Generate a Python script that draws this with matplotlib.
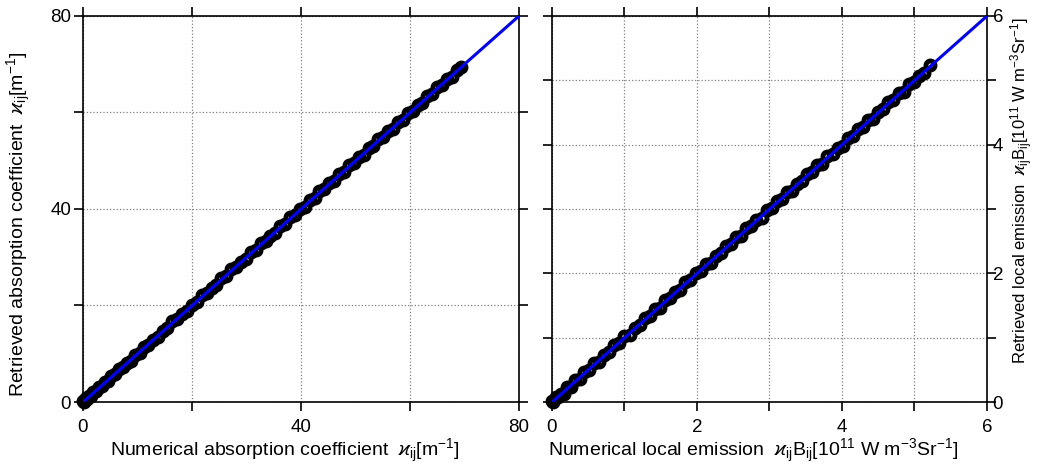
import matplotlib
matplotlib.use("Agg")
import matplotlib.pyplot as plt

plt.rcParams["font.family"] = ["Liberation Sans", "DejaVu Sans"]
plt.rcParams["mathtext.fontset"] = "custom"
plt.rcParams["mathtext.rm"] = "Liberation Sans"
plt.rcParams["mathtext.it"] = "Liberation Sans:italic"
plt.rcParams["mathtext.fallback"] = "stixsans"

# absorption coefficient: numerical vs retrieved [1/m]
num_kappa = [0.0, 0.2, 0.5, 0.8, 1.1, 1.5, 1.9, 2.4, 2.9, 3.4, 4.0, 4.6, 5.2, 5.9,
             6.6, 7.3, 8.0, 8.8, 9.6, 10.4, 11.2, 12.0, 12.8, 13.7, 14.6, 15.5,
             16.4, 17.3, 18.2, 19.1, 20.0, 20.9, 21.8, 22.7, 23.6, 24.5, 25.4,
             26.3, 27.2, 28.1, 29.0, 29.9, 30.8, 31.7, 32.6, 33.5, 34.4, 35.3,
             36.2, 37.1, 38.0, 38.9, 39.8, 40.7, 41.6, 42.5, 43.4, 44.3, 45.2,
             46.1, 47.0, 47.9, 48.8, 49.7, 50.6, 51.5, 52.4, 53.3, 54.2, 55.1,
             56.0, 56.9, 57.8, 58.7, 59.6, 60.5, 61.4, 62.3, 63.2, 64.1, 65.0,
             65.9, 66.8, 67.7, 68.6, 69.4]
ret_kappa = [0.2, 0.0, 0.8, 0.7, 1.2, 1.2, 2.1, 2.2, 3.2, 3.3, 4.1, 4.3, 5.4, 5.7,
             6.9, 7.2, 8.1, 8.5, 9.8, 10.2, 11.5, 11.9, 12.9, 13.4, 14.8, 15.3,
             16.7, 17.2, 18.3, 18.8, 20.2, 20.7, 22.1, 22.6, 23.7, 24.2, 25.6,
             26.1, 27.5, 28.0, 29.1, 29.6, 31.0, 31.5, 32.9, 33.4, 34.5, 35.0,
             36.4, 36.9, 38.3, 38.8, 39.9, 40.4, 41.8, 42.3, 43.7, 44.2, 45.3,
             45.8, 47.2, 47.7, 49.1, 49.6, 50.7, 51.2, 52.6, 53.1, 54.5, 55.0,
             56.1, 56.6, 58.0, 58.5, 59.9, 60.4, 61.5, 62.0, 63.4, 63.9, 65.3,
             65.8, 66.9, 67.4, 68.8, 69.5]

# local emission: numerical vs retrieved [1e11 W m^-3 Sr^-1]
num_emis = [0.00, 0.02, 0.05, 0.08, 0.12, 0.16, 0.21, 0.26, 0.32, 0.38, 0.44, 0.51,
            0.58, 0.65, 0.72, 0.79, 0.86, 0.93, 1.00, 1.07, 1.14, 1.21, 1.28, 1.35,
            1.42, 1.49, 1.56, 1.63, 1.70, 1.77, 1.84, 1.91, 1.98, 2.05, 2.12, 2.19,
            2.26, 2.33, 2.40, 2.47, 2.54, 2.61, 2.68, 2.75, 2.82, 2.89, 2.96, 3.03,
            3.10, 3.17, 3.24, 3.31, 3.38, 3.45, 3.52, 3.59, 3.66, 3.73, 3.80, 3.87,
            3.94, 4.01, 4.08, 4.15, 4.22, 4.29, 4.36, 4.43, 4.50, 4.57, 4.64, 4.71,
            4.78, 4.85, 4.92, 4.99, 5.06, 5.13, 5.22]
ret_emis = [0.02, 0.00, 0.08, 0.07, 0.13, 0.13, 0.24, 0.24, 0.34, 0.35, 0.47, 0.50,
            0.60, 0.62, 0.73, 0.77, 0.89, 0.91, 1.02, 1.04, 1.15, 1.19, 1.31, 1.34,
            1.44, 1.46, 1.59, 1.61, 1.71, 1.74, 1.86, 1.90, 2.01, 2.03, 2.14, 2.16,
            2.27, 2.31, 2.43, 2.46, 2.56, 2.58, 2.71, 2.73, 2.83, 2.86, 2.98, 3.02,
            3.13, 3.15, 3.26, 3.28, 3.39, 3.43, 3.55, 3.58, 3.68, 3.70, 3.83, 3.85,
            3.95, 3.98, 4.10, 4.14, 4.25, 4.27, 4.38, 4.40, 4.51, 4.55, 4.67, 4.70,
            4.80, 4.82, 4.95, 4.97, 5.07, 5.11, 5.24]

kappa_ticks = [0, 20, 40, 60, 80]
kappa_labels = ["0", "", "40", "", "80"]
emis_ticks = [0, 1, 2, 3, 4, 5, 6]
emis_labels = ["0", "", "2", "", "4", "", "6"]

KAP = r"$\varkappa_{\mathrm{ij}}$"
EMIS_UNIT = r"[10$^{\mathrm{11}}$ W m$^{\mathrm{-3}}$Sr$^{\mathrm{-1}}$]"


def style_axes(ax, ticks, labels, lim):
    ax.set_xlim(0, lim)
    ax.set_ylim(0, lim)
    ax.set_xticks(ticks)
    ax.set_xticklabels(labels)
    ax.set_yticks(ticks)
    ax.set_yticklabels(labels)
    ax.grid(True, linestyle=":", color="#808080", linewidth=0.9)
    ax.set_axisbelow(True)
    ax.tick_params(direction="out", length=6.5, width=1.2, top=True, right=True,
                   labelsize=13.5)
    ax.tick_params(axis="x", pad=5.5)
    ax.tick_params(axis="y", pad=2)
    for sp in ax.spines.values():
        sp.set_linewidth(1.2)


def draw_points(ax, x, y):
    # open circles with heavy edges so the overlapping cloud reads as a band
    ax.plot(x, y, "o", mfc="none", mec="k", ms=6.5, mew=3.5,
            clip_on=False, zorder=3)


fig = plt.figure(figsize=(10.45, 4.73), dpi=100)
ax1 = fig.add_axes([0.0794, 0.1501, 0.4172, 0.8161])
ax2 = fig.add_axes([0.5282, 0.1501, 0.4163, 0.8161])

# left: absorption coefficient
style_axes(ax1, kappa_ticks, kappa_labels, 80)
draw_points(ax1, num_kappa, ret_kappa)
ax1.plot([0, 80], [0, 80], color="#0000ff", lw=2.2, zorder=4)
ax1.set_xlabel("Numerical absorption coefficient  " + KAP + r"[m$^{\mathrm{-1}}$]",
               fontsize=14)
ax1.set_ylabel("Retrieved absorption coefficient  " + KAP + r"[m$^{\mathrm{-1}}$]",
               fontsize=14)
ax1.xaxis.set_label_coords(0.463, -0.09)
ax1.yaxis.set_label_coords(-0.115, 0.461)

# right: local emission
style_axes(ax2, emis_ticks, emis_labels, 6)
ax2.tick_params(labelleft=False, labelright=True)
ax2.tick_params(axis="y", pad=-2.5)
draw_points(ax2, num_emis, ret_emis)
ax2.plot([0, 6], [0, 6], color="#0000ff", lw=2.2, zorder=4)
ax2.set_xlabel("Numerical local emission  " + KAP + r"B$_{\mathrm{ij}}$" + EMIS_UNIT,
               fontsize=14)
ax2.xaxis.set_label_coords(0.463, -0.09)
ax2.yaxis.set_label_position("right")
ax2.set_ylabel("Retrieved local emission  " + KAP + r"B$_{\mathrm{ij}}$" + EMIS_UNIT,
               fontsize=12)
ax2.yaxis.set_label_coords(1.05, 0.547)

fig.savefig("out.png", dpi=100)
